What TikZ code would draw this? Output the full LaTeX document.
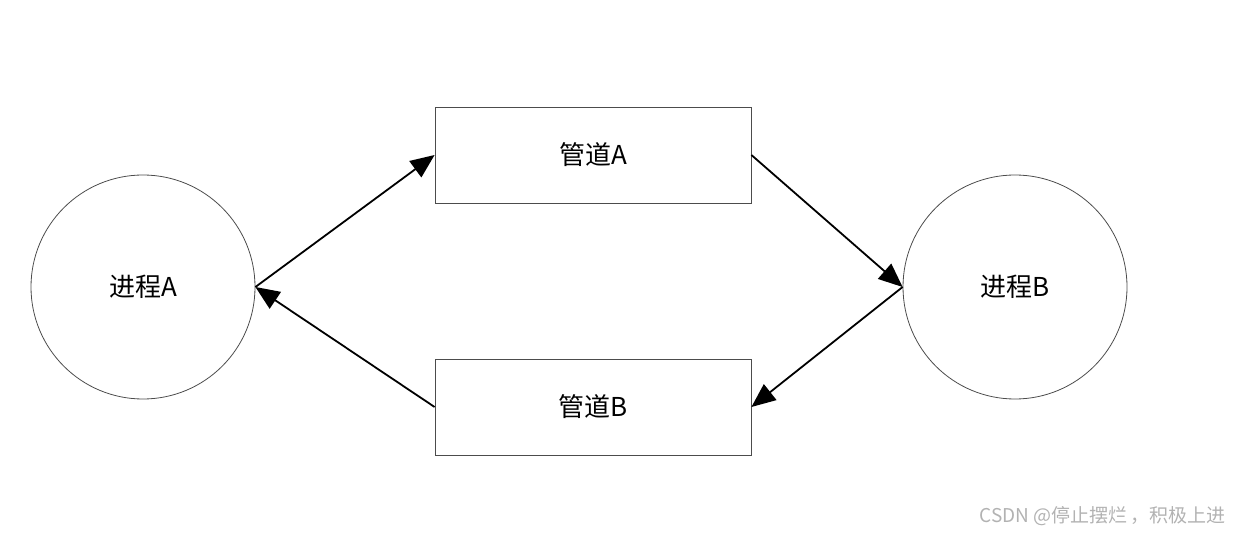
\documentclass[tikz,border=0pt]{standalone}
\usepackage{fontspec}
\newfontfamily\cjk{Noto Sans CJK SC}
\usetikzlibrary{arrows.meta}
\begin{document}
\begin{tikzpicture}[x=1pt,y=-1pt,
  proc/.style={circle,draw=black!70,line width=0.8pt,minimum size=224pt,inner sep=0pt,font=\cjk\fontsize{26}{30}\selectfont},
  pipe/.style={rectangle,draw=black!70,line width=0.8pt,minimum width=316pt,minimum height=96pt,inner sep=0pt,font=\cjk\fontsize{26}{30}\selectfont},
  flow/.style={line width=1.8pt,-{Triangle[length=24pt,width=20pt]}}]
\useasboundingbox (0,0) rectangle (1241,534);
\node[proc] (pa) at (143,287) {进程A};
\node[proc] (pb) at (1015,287) {进程B};
\node[pipe] (ka) at (593,155) {管道A};
\node[pipe] (kb) at (593,407) {管道B};
\draw[flow] (pa.east) -- (ka.west);
\draw[flow] (ka.east) -- (pb.west);
\draw[flow] (pb.west) -- (kb.east);
\draw[flow] (kb.west) -- (pa.east);
\node[anchor=east,text=black!30,font=\cjk\fontsize{19}{22}\selectfont,inner sep=0pt] (wm) at (1226,516) {CSDN @停止摆烂\,，积极上进};
\end{tikzpicture}
\end{document}
